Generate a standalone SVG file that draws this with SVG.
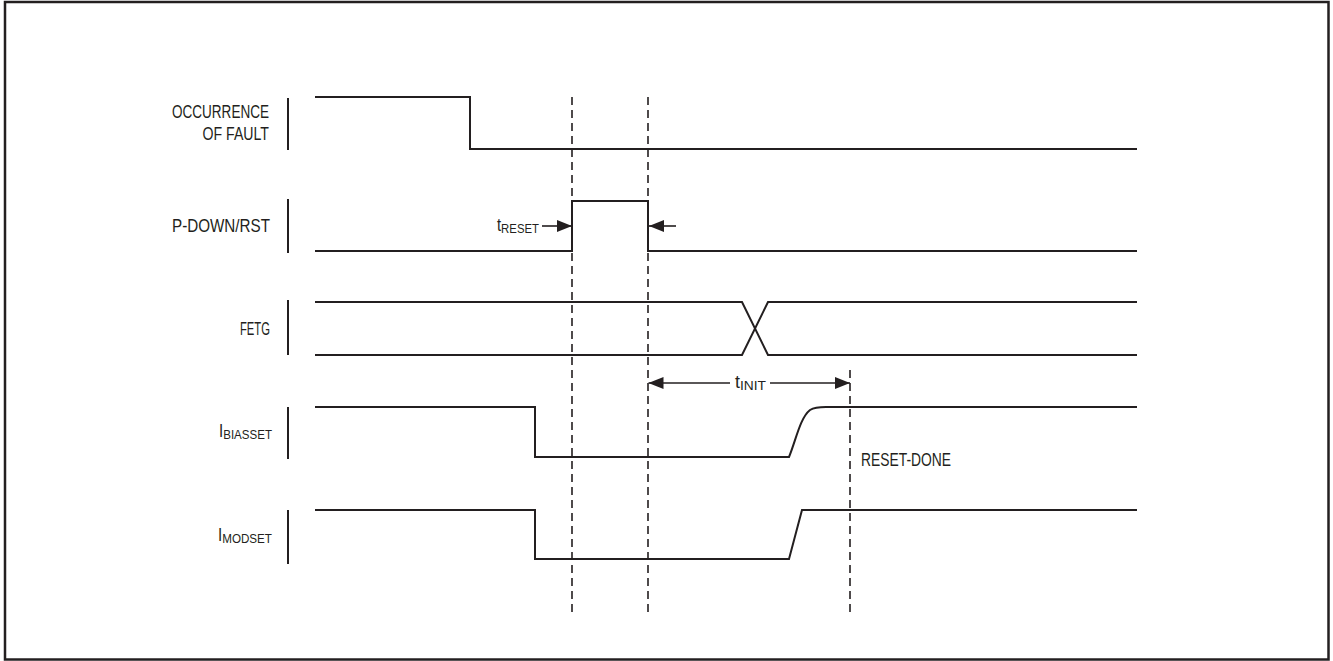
<svg xmlns="http://www.w3.org/2000/svg" width="1333" height="661" viewBox="0 0 1333 661">
<style>
.sig{fill:none;stroke:#231f20;stroke-width:2;stroke-linejoin:miter}
.bar{stroke:#231f20;stroke-width:2}
.dash{stroke:#231f20;stroke-width:1.6;stroke-dasharray:8 5;fill:none}
.lbl{font-family:"Liberation Sans Narrow","Liberation Sans",sans-serif;font-size:17.5px;fill:#231f20}
.sub{font-size:13.5px}
.arr{stroke:#231f20;stroke-width:1.6;fill:none}
</style>
<defs>
<marker id="ah" markerWidth="15" markerHeight="12" refX="15" refY="6" orient="auto" markerUnits="userSpaceOnUse">
<path d="M0,0 L15,6 L0,12 Z" fill="#231f20"/>
</marker>
</defs>
<rect x="5" y="2" width="1323.5" height="657.5" fill="#fff" stroke="#231f20" stroke-width="2.5"/>

<g id="fault">
<text class="lbl" x="269" y="118" text-anchor="end" textLength="97" lengthAdjust="spacingAndGlyphs">OCCURRENCE</text>
<text class="lbl" x="269" y="139.5" text-anchor="end" textLength="66.5" lengthAdjust="spacingAndGlyphs">OF FAULT</text>
<line class="bar" x1="288" y1="98" x2="288" y2="150"/>
<polyline class="sig" points="315,97 470,97 470,149 1137,149"/>
</g>

<g id="pdown">
<text class="lbl" x="270" y="232" text-anchor="end" textLength="98" lengthAdjust="spacingAndGlyphs">P-DOWN/RST</text>
<line class="bar" x1="288" y1="199" x2="288" y2="253"/>
<polyline class="sig" points="315,251 572,251 572,201 648,201 648,251 1137,251"/>
</g>

<g id="fetg">
<text class="lbl" x="270" y="335" text-anchor="end" textLength="30" lengthAdjust="spacingAndGlyphs">FETG</text>
<line class="bar" x1="288" y1="300" x2="288" y2="355"/>
<polyline class="sig" points="315,302 742,302 768,355 1137,355"/>
<polyline class="sig" points="315,355 742,355 768,302 1137,302"/>
</g>

<g id="ibiasset">
<text class="lbl" x="219" y="437" textLength="53" lengthAdjust="spacingAndGlyphs">I<tspan class="sub" dy="1.5">BIASSET</tspan></text>
<line class="bar" x1="288" y1="407" x2="288" y2="459"/>
<path class="sig" d="M315,407 L535,407 L535,457 L789,457 C796,440 800,418 810,410 C814,407.5 820,407 826,407 L1137,407"/>
<text class="lbl" x="861" y="466" textLength="90" lengthAdjust="spacingAndGlyphs">RESET-DONE</text>
</g>

<g id="imodset">
<text class="lbl" x="218" y="541" textLength="54" lengthAdjust="spacingAndGlyphs">I<tspan class="sub" dy="1.5">MODSET</tspan></text>
<line class="bar" x1="288" y1="510" x2="288" y2="564"/>
<polyline class="sig" points="315,510 535,510 535,559 789,559 802,510 1137,510"/>
</g>

<g id="connectors">
<line class="dash" x1="572" y1="97" x2="572" y2="612"/>
<line class="dash" x1="648" y1="97" x2="648" y2="612"/>
<line class="dash" x1="850" y1="370" x2="850" y2="612"/>
<line class="arr" x1="542" y1="226" x2="572" y2="226" marker-end="url(#ah)"/>
<line class="arr" x1="676" y1="226" x2="649" y2="226" marker-end="url(#ah)"/>
<line class="arr" x1="730" y1="383" x2="648.5" y2="383" marker-end="url(#ah)"/>
<line class="arr" x1="770" y1="383" x2="850" y2="383" marker-end="url(#ah)"/>
<text class="lbl" x="497" y="231" textLength="42" lengthAdjust="spacingAndGlyphs">t<tspan class="sub" dy="2">RESET</tspan></text>
<text class="lbl" x="735" y="388" textLength="31" lengthAdjust="spacingAndGlyphs">t<tspan class="sub" dy="2">INIT</tspan></text>
</g>
</svg>
